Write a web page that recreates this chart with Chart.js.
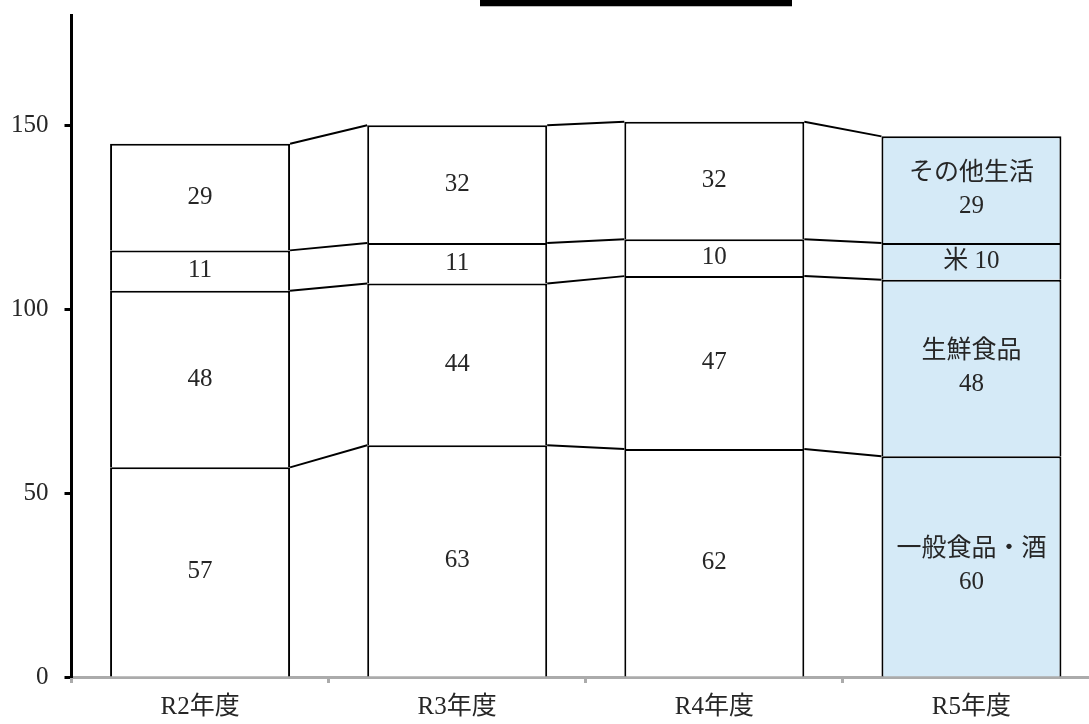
<!DOCTYPE html>
<html>
<head>
<meta charset="utf-8">
<script src="https://cdn.jsdelivr.net/npm/chart.js@4.4.1/dist/chart.umd.min.js"></script>
<style>
  html, body { margin: 0; padding: 0; background: #fff; overflow: hidden; }
</style>
</head>
<body>
<canvas id="salesChart" width="1104" height="724"></canvas>
<script>
// ---------- data ----------
const years = ['R2年度', 'R3年度', 'R4年度', 'R5年度'];
const seriesNames = ['一般食品・酒', '生鮮食品', '米', 'その他生活'];
const generalFood = [57, 63, 62, 60];
const freshFood = [48, 44, 47, 48];
const rice = [11, 11, 10, 10];
const otherLiving = [29, 32, 32, 29];
const yTicks = [0, 50, 100, 150];

const FONT = '"Liberation Serif", "Noto Sans CJK JP", serif';
const TEXT = '#262626';
const HIGHLIGHT = '#D5EAF7';

// last year is shaded and labelled with the series name
function fills() {
    return years.map((y, i) => i === years.length - 1 ? HIGHLIGHT : '#ffffff');
}

function makeSet(name, values) {
    return {
        label: name,
        data: values,
        backgroundColor: fills(),
        borderColor: '#000',
        borderWidth: 2,
        barPercentage: 0.7,
        categoryPercentage: 1
    };
}

// lines joining the top of each segment between neighbouring bars
const seriesLines = {
    id: 'seriesLines',
    afterDatasetsDraw(chart) {
        const ctx = chart.ctx;
        ctx.save();
        ctx.strokeStyle = '#000';
        ctx.lineWidth = 2;
        chart.data.datasets.forEach((ds, di) => {
            const bars = chart.getDatasetMeta(di).data;
            for (let i = 0; i < bars.length - 1; i++) {
                const a = bars[i], b = bars[i + 1];
                ctx.beginPath();
                ctx.moveTo(a.x + a.width / 2, a.y);
                ctx.lineTo(b.x - b.width / 2, b.y);
                ctx.stroke();
            }
        });
        ctx.restore();
    }
};

// value labels in the middle of each segment
const segmentLabels = {
    id: 'segmentLabels',
    afterDatasetsDraw(chart) {
        const ctx = chart.ctx;
        ctx.save();
        ctx.font = '25px ' + FONT;
        ctx.fillStyle = TEXT;
        ctx.textAlign = 'center';
        ctx.textBaseline = 'middle';
        const last = years.length - 1;
        chart.data.datasets.forEach((ds, di) => {
            chart.getDatasetMeta(di).data.forEach((bar, i) => {
                const v = ds.data[i];
                const cy = (bar.y + bar.base) / 2;
                let lines = [String(v)];
                if (i === last) {
                    const h = Math.abs(bar.base - bar.y);
                    lines = h > 60 ? [ds.label, String(v)] : [ds.label + ' ' + v];
                }
                const lh = 33;
                lines.forEach((t, k) => {
                    ctx.fillText(t, bar.x, cy + (k - (lines.length - 1) / 2) * lh);
                });
            });
        });
        ctx.restore();
    }
};

// black title band clipped at the top edge
const titleBand = {
    id: 'titleBand',
    afterDraw(chart) {
        const ctx = chart.ctx;
        ctx.save();
        ctx.fillStyle = '#000';
        ctx.fillRect(480, 0, 312, 6);
        ctx.fillStyle = '#bbb';
        ctx.fillRect(480, 6, 312, 1);
        ctx.restore();
    }
};

new Chart(document.getElementById('salesChart'), {
    type: 'bar',
    data: {
        labels: years,
        datasets: [
            makeSet(seriesNames[0], generalFood),
            makeSet(seriesNames[1], freshFood),
            makeSet(seriesNames[2], rice),
            makeSet(seriesNames[3], otherLiving)
        ]
    },
    options: {
        responsive: false,
        animation: false,
        layout: { padding: { top: 15, right: 4, left: -5, bottom: -7 } },
        plugins: {
            legend: { display: false },
            tooltip: { enabled: false }
        },
        scales: {
            x: {
                stacked: true,
                border: { color: '#ababab', width: 3 },
                grid: {
                    offset: true,
                    drawOnChartArea: false,
                    drawTicks: true,
                    tickLength: 6,
                    tickColor: '#ababab',
                    tickWidth: 3
                },
                ticks: { color: TEXT, font: { family: FONT, size: 25 }, padding: 9 }
            },
            y: {
                stacked: true,
                min: 0,
                max: 180,
                afterBuildTicks: s => { s.ticks = yTicks.map(v => ({ value: v })); },
                // the top tick is well below the axis end, no room needed for its label
                afterFit: s => { s.paddingTop = 0; },
                border: { color: '#000', width: 3 },
                grid: {
                    drawOnChartArea: false,
                    drawTicks: true,
                    tickLength: 7,
                    tickColor: '#000',
                    tickWidth: 3
                },
                ticks: { color: TEXT, font: { family: FONT, size: 25 }, padding: 16 }
            }
        }
    },
    plugins: [seriesLines, segmentLabels, titleBand]
});
</script>
</body>
</html>
